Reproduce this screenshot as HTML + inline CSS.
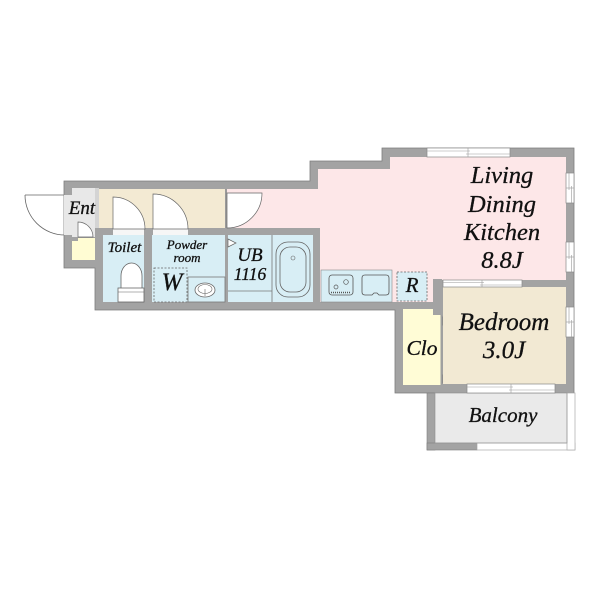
<!DOCTYPE html>
<html><head><meta charset="utf-8">
<style>
html,body{margin:0;padding:0;background:#fff;}
svg{display:block;}
text{font-family:"Liberation Serif",serif;font-style:italic;fill:#111;stroke:#111;stroke-width:0.3;}
</style></head>
<body>
<svg width="600" height="600" viewBox="0 0 600 600" xmlns="http://www.w3.org/2000/svg">
<rect x="0" y="0" width="600" height="600" fill="#fff"/>

<!-- entrance door swing (outside) -->
<path d="M25,195 L64,195 M25,195 A40,40 0 0 0 65,235" fill="none" stroke="#666" stroke-width="0.8"/>

<!-- main walls -->
<polygon points="64,181 310,181 310,161 382,161 382,148 574,148 574,393 395,393 395,310 95,310 95,268 64,268" fill="#a3a3a3" stroke="#7d7d7d" stroke-width="0.8"/>

<!-- Ent -->
<rect x="72" y="188" width="23" height="49" fill="#e8e8e8"/>
<rect x="64" y="195" width="10" height="40" fill="#e8e8e8"/>
<rect x="72" y="238" width="23" height="22" fill="#fffcd3"/>
<rect x="72" y="237" width="6" height="4" fill="#a3a3a3"/>
<path d="M78,237 L78,222 A15,15 0 0 1 93,237 Z" fill="#fff" stroke="#666" stroke-width="0.7"/>
<rect x="95" y="188" width="4" height="40" fill="#d4d4d4"/>

<!-- corridor -->
<rect x="99" y="189" width="126" height="39" fill="#f3ead3"/>
<rect x="225" y="189" width="2" height="39" fill="#9a9a9a"/>

<!-- LDK -->
<polygon points="227,189 318,189 318,169 390,169 390,157 566,157 566,280 433,280 433,302 320,302 320,228 227,228" fill="#fde7e8"/>

<!-- toilet / powder / UB -->
<rect x="103" y="235" width="41" height="67" fill="#d8eef5"/>
<rect x="152" y="235" width="73" height="67" fill="#d8eef5"/>
<rect x="225" y="235" width="3" height="67" fill="#a3a3a3"/>
<rect x="228" y="235" width="85" height="67" fill="#d8eef5"/>

<!-- door openings -->
<rect x="113" y="228" width="31" height="7" fill="#f6f6f6"/>
<rect x="153" y="228" width="35" height="7" fill="#f6f6f6"/>

<!-- doors in corridor -->
<path d="M113,229 L113,197 A32,32 0 0 1 145,229 Z" fill="#fff" stroke="#666" stroke-width="0.7"/>
<path d="M153,229 L153,194 A35,35 0 0 1 188,229 Z" fill="#fff" stroke="#666" stroke-width="0.7"/>
<path d="M227,193 L262,193 A35,35 0 0 1 227,228 Z" fill="#fff" stroke="#666" stroke-width="0.7"/>

<!-- toilet fixture -->
<path d="M121,290 L121,276 A10.5,13 0 0 1 142,276 L142,290" fill="#fff" stroke="#666" stroke-width="0.8"/>
<rect x="118" y="288" width="26" height="14" fill="#fff" stroke="#666" stroke-width="0.8"/>
<line x1="118" y1="292" x2="144" y2="292" stroke="#666" stroke-width="0.6"/>

<!-- powder room fixtures -->
<rect x="154" y="268" width="33" height="34" fill="none" stroke="#666" stroke-width="0.8" stroke-dasharray="2,1.5"/>
<rect x="188" y="277" width="37" height="25" fill="#d8eef5" stroke="#777" stroke-width="0.8"/>
<ellipse cx="205" cy="290" rx="10" ry="7" fill="#fff" stroke="#666" stroke-width="0.8"/>
<ellipse cx="205" cy="289" rx="7" ry="4.5" fill="none" stroke="#666" stroke-width="0.6"/>
<line x1="205" y1="289" x2="205" y2="296" stroke="#666" stroke-width="0.6"/>

<!-- UB fixtures -->
<line x1="272" y1="235" x2="272" y2="302" stroke="#777" stroke-width="0.8"/>
<line x1="228" y1="291" x2="272" y2="291" stroke="#777" stroke-width="0.8"/>
<rect x="276" y="242" width="34" height="55" rx="12" fill="#d8eef5" stroke="#666" stroke-width="0.8"/>
<rect x="280" y="247" width="26" height="45" rx="10" fill="#d8eef5" stroke="#666" stroke-width="0.8"/>
<circle cx="293" cy="258" r="2" fill="none" stroke="#666" stroke-width="0.6"/>
<polygon points="228,239 236,243 228,247" fill="#fff" stroke="#666" stroke-width="0.7"/>

<!-- kitchen -->
<rect x="321" y="270" width="71" height="32" fill="#d8eef5" stroke="#888" stroke-width="0.6"/>
<rect x="329" y="275" width="24" height="20" rx="3" fill="#d8eef5" stroke="#555" stroke-width="0.8"/>
<circle cx="336" cy="287" r="2" fill="none" stroke="#555" stroke-width="0.7"/>
<circle cx="346" cy="282" r="2.3" fill="none" stroke="#555" stroke-width="0.7"/>
<line x1="331" y1="292.5" x2="351" y2="292.5" stroke="#555" stroke-width="1.5" stroke-dasharray="1,1"/>
<path d="M365,275 L386,275 Q389,275 389,278 L389,292 Q389,295 386,295 L379,295 L377,293 L374,293 L372,295 L365,295 Q362,295 362,292 L362,278 Q362,275 365,275 Z" fill="#d8eef5" stroke="#555" stroke-width="0.8"/>
<rect x="397" y="272" width="30" height="29" fill="#d8eef5" stroke="#666" stroke-width="0.8" stroke-dasharray="2,1.5"/>

<!-- Clo -->
<rect x="403" y="309" width="38" height="76" fill="#fffcd6"/>
<rect x="433" y="279" width="9" height="36" fill="#a3a3a3"/>
<rect x="440.5" y="315" width="2.5" height="70" fill="#a0a0a0"/>
<polygon points="443,317 452,321 443,325" fill="#fff" stroke="#666" stroke-width="0.7"/>
<polygon points="443,375 452,379 443,383" fill="#fff" stroke="#666" stroke-width="0.7"/>

<!-- Bedroom -->
<rect x="443" y="287" width="123" height="97" fill="#f2e9d3"/>

<!-- Balcony -->
<rect x="427" y="393" width="8" height="57" fill="#a3a3a3" stroke="#7d7d7d" stroke-width="0.6"/>
<rect x="435" y="393" width="132" height="50" fill="#eaeaea"/>
<rect x="427" y="443" width="50" height="7" fill="#a3a3a3" stroke="#7d7d7d" stroke-width="0.6"/>
<rect x="477" y="443" width="98" height="7" fill="#fff" stroke="#aaa" stroke-width="0.7"/>
<rect x="567" y="393" width="8" height="57" fill="#fff" stroke="#aaa" stroke-width="0.7"/>
<rect x="435" y="393" width="132" height="50" fill="none" stroke="#999" stroke-width="0.7"/>

<!-- windows -->
<g fill="#fff" stroke="#888" stroke-width="0.7">
  <rect x="427" y="148" width="83" height="9"/>
  <rect x="566" y="173" width="8" height="30"/>
  <rect x="566" y="242" width="8" height="30"/>
  <rect x="443" y="280" width="79" height="7"/>
  <rect x="566" y="307" width="8" height="30"/>
  <rect x="467" y="384" width="88" height="9"/>
</g>
<g fill="none" stroke="#999" stroke-width="0.6">
  <line x1="427" y1="151" x2="470" y2="151"/><line x1="466" y1="154" x2="510" y2="154"/><line x1="468" y1="148" x2="468" y2="157"/>
  <line x1="569" y1="173" x2="569" y2="190"/><line x1="571.5" y1="186" x2="571.5" y2="203"/><line x1="566" y1="188" x2="574" y2="188"/>
  <line x1="569" y1="242" x2="569" y2="259"/><line x1="571.5" y1="255" x2="571.5" y2="272"/><line x1="566" y1="257" x2="574" y2="257"/>
  <line x1="443" y1="282.5" x2="484" y2="282.5"/><line x1="480" y1="285" x2="522" y2="285"/><line x1="482" y1="280" x2="482" y2="287"/>
  <line x1="569" y1="307" x2="569" y2="324"/><line x1="571.5" y1="320" x2="571.5" y2="337"/><line x1="566" y1="322" x2="574" y2="322"/>
  <line x1="467" y1="387" x2="513" y2="387"/><line x1="509" y1="390" x2="555" y2="390"/><line x1="511" y1="384" x2="511" y2="393"/>
</g>

<!-- labels -->
<text x="82" y="214" font-size="19" text-anchor="middle">Ent</text>
<text x="124.5" y="252" font-size="15" text-anchor="middle">Toilet</text>
<text x="187" y="249" font-size="13" text-anchor="middle">Powder</text>
<text x="187" y="262" font-size="13" text-anchor="middle">room</text>
<text x="172" y="290" font-size="25" text-anchor="middle">W</text>
<text x="250" y="261" font-size="19" text-anchor="middle">UB</text>
<text x="250" y="280" font-size="17.5" text-anchor="middle">1116</text>
<text x="412" y="292" font-size="21" text-anchor="middle">R</text>
<text x="502" y="183" font-size="24.5" text-anchor="middle">Living</text>
<text x="502" y="212" font-size="24.5" text-anchor="middle">Dining</text>
<text x="502" y="240" font-size="24.5" text-anchor="middle">Kitchen</text>
<text x="502" y="268" font-size="24.5" text-anchor="middle">8.8J</text>
<text x="504" y="330" font-size="25" text-anchor="middle">Bedroom</text>
<text x="504" y="358" font-size="25" text-anchor="middle">3.0J</text>
<text x="422" y="355" font-size="21.5" text-anchor="middle">Clo</text>
<text x="503" y="422" font-size="21" text-anchor="middle">Balcony</text>
</svg>
</body></html>
